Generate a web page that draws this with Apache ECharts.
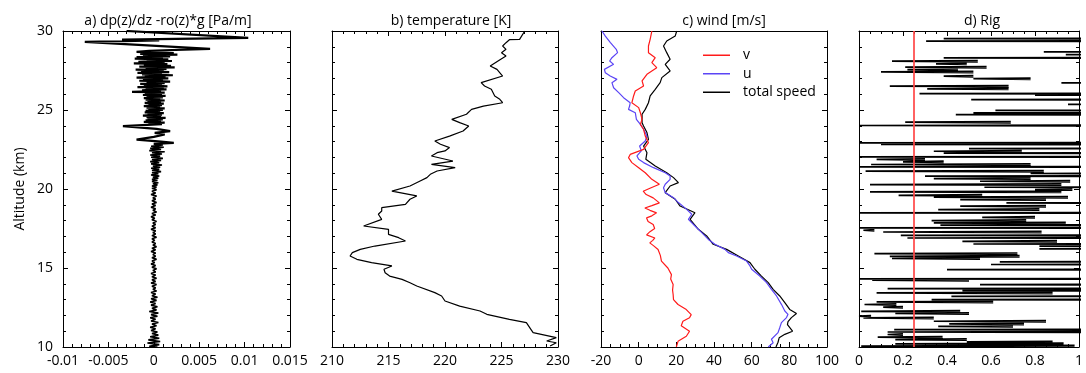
<!DOCTYPE html>
<html>
<head>
<meta charset="utf-8">
<script src="https://cdn.jsdelivr.net/npm/echarts@6.0.0/dist/echarts.min.js"></script>
<style>
  html, body { margin: 0; padding: 0; background: #fff; }
  #chart { width: 1086px; height: 373px; }
</style>
</head>
<body>
<div id="chart"></div>
<script>
// ---- data (altitude km, value) ----
const altTicks = ['10', '15', '20', '25', '30'];
const dpTicks = ['-0.01', '-0.005', '0', '0.005', '0.01', '0.015'];
const tempTicks = ['210', '215', '220', '225', '230'];
const windTicks = ['-20', '0', '20', '40', '60', '80', '100'];
const rigTicks = ['0', '0.2', '0.4', '0.6', '0.8', '1'];

const panelTitles = ['a) dp(z)/dz -ro(z)*g [Pa/m]', 'b) temperature [K]', 'c) wind [m/s]', 'd) Rig'];
const windNames = ['v', 'u', 'total speed'];

// a) dp(z)/dz - ro(z)*g
const dpProfile = [
  [30.0, -0.003], [29.57, 0.0104], [29.45, -0.0035], [29.40, 0.0006], [29.31, -0.0076],
  [28.87, 0.0062], [28.75, -0.0005], [28.68, -0.0019],
  [28.600, 0.0022], [28.575, 0.0003], [28.550, -0.0015], [28.525, 0.0006], [28.500, 0.0026],
  [28.475, -0.0004], [28.450, -0.0012], [28.425, 0.0007], [28.400, 0.0018], [28.375, -0.0005],
  [28.350, -0.0019], [28.325, 0.0002], [28.300, 0.0010], [28.275, -0.0006], [28.250, -0.0021],
  [28.225, 0.0004], [28.200, 0.0016], [28.175, -0.0003], [28.150, -0.0008], [28.125, 0.0008],
  [28.100, 0.0020], [28.075, -0.0005], [28.050, -0.0017], [28.025, 0.0003], [28.000, 0.0012],
  [27.975, -0.0007], [27.950, -0.0022], [27.925, 0.0005], [27.900, 0.0015], [27.875, -0.0002],
  [27.850, -0.0011], [27.825, 0.0006], [27.800, 0.0019], [27.775, -0.0004], [27.750, -0.0016],
  [27.725, 0.0007], [27.700, 0.0023], [27.675, 0.0001], [27.650, -0.0009], [27.625, 0.0004],
  [27.600, 0.0014], [27.575, -0.0006], [27.550, -0.0020], [27.525, 0.0002], [27.500, 0.0011],
  [27.475, -0.0003], [27.450, -0.0014], [27.425, 0.0005], [27.400, 0.0017], [27.375, -0.0005],
  [27.350, -0.0018], [27.325, 0.0003], [27.300, 0.0009], [27.275, -0.0004], [27.250, -0.0013],
  [27.225, 0.0006], [27.200, 0.0021], [27.175, -0.0002], [27.150, -0.0010], [27.125, 0.0004],
  [27.100, 0.0013], [27.075, -0.0006], [27.050, -0.0019], [27.025, 0.0002], [27.000, 0.0016],
  [26.975, -0.0003], [26.950, -0.0012], [26.925, 0.0005], [26.900, 0.0010], [26.875, -0.0004],
  [26.850, -0.0016], [26.825, 0.0003], [26.800, 0.0018], [26.775, 0.0000], [26.750, -0.0008],
  [26.725, 0.0004], [26.700, 0.0012], [26.675, -0.0005], [26.650, -0.0015], [26.625, 0.0002],
  [26.600, 0.0009], [26.575, -0.0003], [26.550, -0.0011], [26.525, 0.0005], [26.500, 0.0015],
  [26.475, -0.0004], [26.450, -0.0018], [26.425, 0.0002], [26.400, 0.0011], [26.375, -0.0002],
  [26.350, -0.0009], [26.325, 0.0004], [26.300, 0.0014], [26.275, -0.0005], [26.250, -0.0013],
  [26.225, 0.0003], [26.200, 0.0008], [26.175, -0.0006], [26.150, -0.0024], [26.125, 0.0001],
  [26.100, 0.0012], [26.075, -0.0003], [26.050, -0.0010], [26.025, 0.0004], [26.000, 0.0009],
  [25.975, -0.0004], [25.950, -0.0012], [25.925, 0.0003], [25.900, 0.0013], [25.875, -0.0002],
  [25.850, -0.0008], [25.825, 0.0004], [25.800, 0.0010], [25.775, -0.0003], [25.750, -0.0011],
  [25.725, 0.0002], [25.700, 0.0007], [25.675, -0.0003], [25.650, -0.0009], [25.625, 0.0004],
  [25.600, 0.0012], [25.575, -0.0002], [25.550, -0.0007], [25.525, 0.0003], [25.500, 0.0008],
  [25.475, -0.0004], [25.450, -0.0010], [25.425, 0.0002], [25.400, 0.0011], [25.375, -0.0001],
  [25.350, -0.0006], [25.325, 0.0003], [25.300, 0.0009], [25.275, -0.0004], [25.250, -0.0011],
  [25.225, 0.0002], [25.200, 0.0007], [25.175, -0.0002], [25.150, -0.0008], [25.125, 0.0004],
  [25.100, 0.0012], [25.075, -0.0002], [25.050, -0.0006], [25.025, 0.0003], [25.000, 0.0010],
  [24.975, -0.0003], [24.950, -0.0009], [24.925, 0.0002], [24.900, 0.0007], [24.875, -0.0004],
  [24.850, -0.0010], [24.825, 0.0003], [24.800, 0.0011], [24.775, -0.0001], [24.750, -0.0007],
  [24.725, 0.0002], [24.700, 0.0009], [24.675, -0.0004], [24.650, -0.0012], [24.625, 0.0001],
  [24.600, 0.0008], [24.575, -0.0002], [24.550, -0.0008], [24.525, 0.0004], [24.500, 0.0013],
  [24.475, -0.0001], [24.450, -0.0007], [24.425, 0.0003], [24.400, 0.0010], [24.375, -0.0003],
  [24.350, -0.0009], [24.325, 0.0002], [24.300, 0.0008], [24.275, -0.0004], [24.250, -0.0011],
  [24.225, 0.0003], [24.200, 0.0012], [24.175, -0.0001], [24.150, -0.0006], [24.125, 0.0002],
  [24.100, 0.0009],
  [23.98, -0.0034], [23.80, 0.0003], [23.66, 0.0018], [23.55, 0.0001], [23.45, 0.0012],
  [23.30, 0.0000], [23.13, -0.0019], [23.00, 0.0008], [22.92, 0.0022], [22.85, 0.0000],
  [22.78, 0.0010], [22.71, -0.0003], [22.64, 0.0011], [22.57, -0.0004], [22.50, 0.0008],
  [22.43, -0.0005], [22.36, 0.0012], [22.29, -0.0002], [22.22, 0.0009], [22.15, -0.0004],
  [22.08, 0.0007], [22.01, -0.0003], [21.94, 0.0010], [21.87, -0.0002], [21.80, 0.0008],
  [21.73, -0.0004], [21.66, 0.0006], [21.59, -0.0003], [21.52, 0.0009], [21.45, -0.0001],
  [21.38, 0.0007], [21.31, -0.0003], [21.24, 0.0006], [21.17, -0.0002], [21.10, 0.0008],
  [21.03, -0.0002], [20.96, 0.0005], [20.89, -0.0003], [20.82, 0.0006], [20.75, -0.0001],
  [20.68, 0.0005], [20.61, -0.0002], [20.54, 0.0004], [20.47, -0.0002], [20.40, 0.0005],
  [20.33, -0.0001], [20.26, 0.0004], [20.19, -0.0002], [20.12, 0.0003], [20.05, -0.0002],
  [19.95, 0.0003], [19.85, -0.0002], [19.75, 0.0002], [19.65, -0.0003], [19.55, 0.0003],
  [19.45, -0.0001], [19.35, 0.0002], [19.25, -0.0002], [19.15, 0.0003], [19.05, -0.0002],
  [18.95, 0.0002], [18.85, -0.0003], [18.75, 0.0002], [18.65, -0.0001], [18.55, 0.0003],
  [18.45, -0.0002], [18.35, 0.0002], [18.25, -0.0003], [18.15, 0.0001], [18.05, -0.0002],
  [17.95, 0.0003], [17.85, -0.0001], [17.75, 0.0002], [17.65, -0.0002], [17.55, 0.0002],
  [17.45, -0.0003], [17.35, 0.0002], [17.25, -0.0001], [17.15, 0.0002], [17.05, -0.0002],
  [16.95, 0.0003], [16.85, -0.0002], [16.75, 0.0001], [16.65, -0.0002], [16.55, 0.0002],
  [16.45, -0.0001], [16.35, 0.0003], [16.25, -0.0002], [16.15, 0.0002], [16.05, -0.0003],
  [15.95, 0.0002], [15.85, -0.0001], [15.75, 0.0002], [15.65, -0.0002], [15.55, 0.0003],
  [15.45, -0.0002], [15.35, 0.0001], [15.25, -0.0003], [15.15, 0.0002], [15.05, -0.0002],
  [14.95, 0.0003], [14.85, -0.0001], [14.75, 0.0002], [14.65, -0.0003], [14.55, 0.0002],
  [14.45, -0.0002], [14.35, 0.0003], [14.25, -0.0002], [14.15, 0.0002], [14.05, -0.0003],
  [13.95, 0.0003], [13.85, -0.0002], [13.75, 0.0002], [13.65, -0.0001], [13.55, 0.0003],
  [13.45, -0.0003], [13.35, 0.0002], [13.25, -0.0002], [13.15, 0.0004], [13.05, -0.0003],
  [12.95, 0.0003], [12.85, -0.0004], [12.75, 0.0002], [12.65, -0.0003], [12.55, 0.0004],
  [12.45, -0.0002], [12.35, 0.0003], [12.25, -0.0005], [12.15, 0.0005], [12.05, -0.0003],
  [11.95, 0.0004], [11.85, -0.0004], [11.75, 0.0002], [11.65, -0.0003], [11.55, 0.0005],
  [11.45, -0.0002], [11.35, 0.0003], [11.25, -0.0004], [11.15, 0.0002], [11.05, -0.0003],
  [10.95, 0.0004], [10.85, -0.0002], [10.75, 0.0005], [10.65, -0.0004], [10.55, 0.0006],
  [10.45, -0.0006], [10.35, 0.0007], [10.25, -0.0007], [10.15, 0.0006], [10.05, -0.0005],
  [10.00, 0.0004]
];
const DP_SPLIT_ALT = 22.85; // the noisy upper band is drawn with a heavier stroke

// b) temperature [K]
const tempProfile = [
  [30.00, 227.06], [29.47, 226.6], [29.45, 225.7], [29.26, 225.4], [29.05, 225.1], [28.84, 225.4],
  [28.63, 225.0], [28.42, 225.4], [28.20, 224.9], [27.78, 224.0], [27.57, 224.6], [27.15, 225.1],
  [26.73, 223.2], [26.52, 223.5], [26.31, 224.1], [25.89, 224.4], [25.68, 224.85], [25.46, 225.1],
  [25.25, 223.4], [25.04, 222.35], [24.73, 221.9], [24.41, 220.6], [24.20, 221.3], [23.99, 222.1],
  [23.67, 221.6], [23.35, 220.4], [23.04, 219.1], [22.83, 219.6], [22.62, 220.4], [22.41, 220.0],
  [22.30, 219.3], [22.09, 218.8], [21.77, 220.7], [21.56, 218.8], [21.35, 220.9], [21.14, 219.3],
  [20.93, 218.7], [20.72, 218.4], [20.51, 217.8], [20.19, 216.9], [19.87, 215.3], [19.56, 217.5],
  [19.35, 216.9], [19.03, 216.5], [18.82, 214.4], [18.61, 214.4], [18.40, 214.1], [18.08, 214.4],
  [17.66, 212.8], [17.45, 215.0], [17.13, 215.0], [16.92, 215.9], [16.71, 216.5], [16.39, 213.8],
  [16.18, 212.5], [15.97, 211.8], [15.76, 211.6], [15.55, 212.2], [15.34, 213.5], [15.13, 215.3],
  [14.92, 214.6], [14.70, 214.7], [14.49, 215.1], [14.28, 216.2], [14.07, 216.9], [13.86, 217.5],
  [13.44, 219.1], [13.23, 219.7], [12.91, 220.0], [12.59, 221.3], [12.28, 223.1], [12.07, 223.7],
  [11.75, 225.7], [11.54, 227.2], [11.12, 227.6], [10.91, 227.8], [10.59, 229.85], [10.38, 229.0],
  [10.27, 229.85], [10.06, 229.3]
];

// c) wind [m/s]
const vProfile = [
  [30.00, 7.0], [29.47, 6.1], [29.05, 5.2], [28.63, 5.2], [28.31, 8.8], [28.00, 7.0], [27.68, 9.6],
  [27.26, 4.4], [26.84, 1.8], [26.52, 2.6], [26.20, -1.8], [25.89, -2.7], [25.46, -3.6], [25.15, 0.0],
  [24.83, 0.9], [24.41, 1.8], [24.09, 0.9], [23.78, 2.6], [23.35, 3.5], [22.93, 5.2], [22.51, 2.6],
  [22.19, -4.5], [21.98, -5.4], [21.67, -3.6], [21.35, 0.0], [21.03, 3.5], [20.61, 7.0], [20.30, 11.0],
  [20.05, 6.0], [19.86, 2.4], [19.65, 4.0], [19.44, 7.7], [19.12, 11.0], [18.95, 7.0], [18.80, 3.3],
  [18.65, 6.0], [18.49, 9.5], [18.30, 7.0], [18.17, 4.2], [17.95, 5.0], [17.75, 7.7], [17.50, 8.5],
  [17.30, 6.0], [17.10, 4.2], [16.90, 8.6], [16.75, 7.5], [16.59, 5.9], [16.40, 8.0], [16.17, 10.3],
  [15.80, 11.5], [15.43, 12.1], [15.00, 15.5], [14.58, 17.4], [14.30, 17.0], [13.95, 18.3],
  [13.60, 18.0], [13.32, 18.3], [13.00, 18.5], [12.69, 20.9], [12.37, 25.3], [12.05, 27.9],
  [11.85, 27.0], [11.63, 23.5], [11.35, 22.6], [11.00, 27.0], [10.68, 25.3], [10.36, 20.9], [10.00, 20.0]
];
const uProfile = [
  [30.00, -19.5], [29.68, -17.7], [29.26, -15.0], [28.84, -11.9], [28.63, -11.2], [28.31, -14.2],
  [28.10, -15.4], [27.89, -13.3], [27.57, -18.2], [27.36, -17.7], [27.15, -15.1], [26.94, -11.5],
  [26.73, -14.2], [26.41, -13.3], [26.10, -10.6], [25.78, -8.0], [25.46, -4.5], [25.25, -4.8],
  [25.04, -5.4], [24.83, -1.8], [24.41, -1.2], [24.09, 0.9], [23.78, 2.6], [23.35, 4.4], [23.04, 3.5],
  [22.72, 0.5], [22.41, 1.4], [22.09, -0.9], [21.88, 0.0], [21.67, 2.6], [21.35, 7.9], [21.03, 14.1],
  [20.82, 16.7], [20.61, 16.7], [20.30, 14.1], [20.08, 13.2], [19.77, 14.1], [19.45, 18.5],
  [19.14, 21.1], [18.71, 25.5], [18.40, 28.2], [18.08, 26.4], [17.66, 29.9], [17.24, 33.5],
  [16.81, 37.0], [16.50, 40.5], [16.18, 45.8], [15.97, 47.6], [15.76, 52.0], [15.44, 57.3],
  [15.13, 59.1], [14.92, 60.0], [14.49, 64.3], [14.07, 67.9], [13.65, 70.5], [13.23, 73.2],
  [12.70, 75.8], [12.28, 77.6], [12.07, 79.3], [11.86, 78.5], [11.54, 75.8], [11.22, 74.9],
  [10.91, 74.0], [10.49, 70.5], [10.27, 71.4], [10.00, 68.8]
];
const speedProfile = [
  [30.00, 20.2], [29.68, 19.4], [29.37, 14.9], [29.05, 13.2], [28.63, 14.9], [28.21, 16.7],
  [27.89, 14.1], [27.47, 16.7], [27.05, 12.3], [26.73, 11.4], [26.31, 8.8], [25.89, 6.1],
  [25.46, 5.2], [25.04, 3.5], [24.73, 1.8], [24.20, 1.8], [23.99, 2.6], [23.57, 4.4], [23.14, 5.2],
  [22.72, 2.6], [22.30, 4.4], [21.88, 3.8], [21.46, 8.8], [21.03, 14.9], [20.72, 18.5], [20.40, 21.1],
  [20.19, 16.7], [19.77, 14.1], [19.35, 19.4], [18.92, 22.0], [18.50, 29.9], [18.08, 27.3],
  [17.45, 31.7], [17.03, 36.1], [16.50, 39.6], [16.18, 46.7], [15.76, 52.9], [15.34, 59.1],
  [14.92, 61.7], [14.49, 65.2], [14.07, 68.8], [13.65, 71.4], [13.23, 74.9], [12.81, 77.6],
  [12.38, 80.2], [12.12, 83.8], [11.86, 81.1], [11.60, 79.3], [11.42, 79.0], [11.00, 81.7],
  [10.80, 77.6], [10.58, 74.6], [10.30, 74.0], [10.00, 72.9]
];

// d) Rig: each excursion starts at rigTip and runs out to rigEnd (2 = off the axis)
const rigAlt = [
  29.52, 29.36, 28.68, 28.51, 28.30, 28.09, 27.92, 27.71, 27.56, 27.41, 27.14, 26.98, 26.72, 26.51,
  26.34, 26.04, 25.94, 25.66, 25.35, 24.97, 24.82, 24.71, 24.23, 24.02, 22.92, 22.82, 22.56, 22.39,
  22.27, 22.03, 21.87, 21.72, 21.55, 21.40, 21.13, 20.98, 20.81, 20.66, 20.49, 20.28, 20.11, 19.96,
  19.82, 19.60, 19.48, 19.33, 19.12, 18.91, 18.70, 18.49, 18.21, 18.00, 17.85, 17.71, 17.54, 17.39,
  17.28, 17.07, 16.90, 16.69, 16.52, 16.38, 16.21, 15.91, 15.74, 15.60, 15.39, 15.22, 14.90, 14.31,
  14.23, 13.95, 13.70, 13.57, 13.42, 13.21, 13.00, 12.85, 12.69, 12.52, 12.26, 12.12, 11.95, 11.84,
  11.63, 11.46, 11.31, 11.10, 10.95, 10.79, 10.62, 10.47, 10.32, 10.20, 10.06
];
const rigTip = [
  0.385, 0.305, 0.84, 0.94, 0.385, 0.15, 0.35, 0.21, 0.22, 0.10, 0.385, 0.52, 0.92, 0.14,
  0.31, 0.275, 0.80, 0.51, 0.95, 0.62, 0.52, 0.44, 0.21, 0.0, 0.0, 0.10, 0.50, 0.34,
  0.385, 0.0, 0.08, 0.20, 0.055, 0.0, 0.03, 0.78, 0.30, 0.34, 0.55, 0.05, 0.57, 0.80,
  0.05, 0.18, 0.34, 0.46, 0.67, 0.46, 0.36, 0.0, 0.56, 0.33, 0.34, 0.37, 0.0, 0.02,
  0.11, 0.19, 0.22, 0.47, 0.52, 0.82, 0.82, 0.07, 0.14, 0.15, 0.64, 0.60, 0.40, 0.0,
  0.06, 0.55, 0.13, 0.47, 0.08, 0.42, 0.33, 0.08, 0.025, 0.11, 0.01, 0.165, 0.0, 0.02,
  0.34, 0.41, 0.36, 0.16, 0.13, 0.13, 0.085, 0.165, 0.49, 0.165, 0.01
];
const rigEnd = [
  2, 2, 2, 2, 2, 0.54, 0.49, 0.58, 0.45, 0.52, 0.52, 0.78, 2, 0.68,
  0.68, 2, 2, 2, 2, 2, 2, 2, 0.69, 2, 2, 2, 2, 0.74,
  2, 2, 0.30, 0.385, 0.78, 2, 0.84, 2, 2, 0.78, 0.96, 0.92, 2, 0.97,
  0.92, 0.56, 0.95, 0.85, 2, 0.85, 0.82, 2, 0.80, 0.76, 0.94, 2, 2, 0.07,
  0.83, 2, 2, 0.90, 2, 2, 2, 0.72, 0.73, 0.55, 2, 2, 2, 2,
  0.50, 2, 2, 2, 0.88, 2, 2, 0.61, 0.17, 0.20, 0.46, 0.50, 0.055, 0.34,
  0.85, 0.75, 0.70, 2, 2, 0.20, 0.38, 0.49, 0.88, 0.93, 0.98
];
const rigCritical = 0.25;

// ---- layout ----
const FONT = 'Open Sans';
const GRID_TOP = 31;
const GRID_HEIGHT = 316;
const panels = [
  { left: 63, width: 227, titleX: 163 },
  { left: 332, width: 226, titleX: 446 },
  { left: 601, width: 226, titleX: 719 },
  { left: 859, width: 227, titleX: 977 }
];
const xSpecs = [
  { min: -0.01, max: 0.015, interval: 0.005, minor: 5, labels: dpTicks, topTicks: true },
  { min: 210, max: 230, interval: 5, minor: 5, labels: tempTicks, topTicks: true },
  { min: -20, max: 100, interval: 20, minor: 4, labels: windTicks, topTicks: false },
  { min: 0, max: 1, interval: 0.2, minor: 4, labels: rigTicks, topTicks: true }
];

const toXY = (profile) => profile.map(p => [p[1], p[0]]);

const rigData = [];
rigAlt.forEach((a, i) => {
  rigData.push([rigEnd[i], a + 0.04], [rigTip[i], a], [rigEnd[i], a - 0.04], ['-', '-']);
});

// every axis gets its own fresh style objects
const frame = (gridIndex, position, range, ticks, minorSplit, extra) => Object.assign({
  type: 'value', gridIndex, position,
  min: range.min, max: range.max, interval: range.interval,
  splitLine: { show: false },
  axisLine: { show: true, onZero: false, lineStyle: { color: '#000' } },
  axisTick: { show: ticks, inside: true, length: 5, lineStyle: { color: '#000' } },
  minorTick: { show: ticks, splitNumber: minorSplit, length: 3, lineStyle: { color: '#000' } },
  axisLabel: { show: false }
}, extra);

const ALT_RANGE = { min: 10, max: 30, interval: 5 };
const grids = [];
const xAxes = [];
const yAxes = [];
panels.forEach((p, i) => {
  const s = xSpecs[i];
  grids.push({ left: p.left, top: GRID_TOP, width: p.width, height: GRID_HEIGHT });
  xAxes.push(frame(i, 'bottom', s, true, s.minor, {
    axisLabel: {
      show: true, color: '#000', fontSize: 14, fontFamily: FONT, margin: 7,
      showMinLabel: true, showMaxLabel: true,
      formatter: (v, idx) => s.labels[idx]
    }
  }));
  xAxes.push(frame(i, 'top', s, s.topTicks, s.minor, {}));
  yAxes.push(frame(i, 'left', ALT_RANGE, true, 5, i === 0 ? {
    name: 'Altitude (km)', nameLocation: 'middle', nameGap: 36,
    nameTextStyle: { color: '#000', fontSize: 14, fontFamily: FONT },
    axisLabel: {
      show: true, color: '#000', fontSize: 14, fontFamily: FONT, margin: 10,
      formatter: (v, idx) => altTicks[idx]
    }
  } : {}));
  yAxes.push(frame(i, 'right', ALT_RANGE, true, 5, {}));
});

const lineSeries = (name, panel, data, color, width) => ({
  name, type: 'line', xAxisIndex: panel * 2, yAxisIndex: panel * 2, data,
  symbol: 'none', showSymbol: false, clip: true, animation: false,
  lineStyle: { color, width }, itemStyle: { color }
});

const rigSeries = lineSeries('Rig', 3, rigData, '#000', 1.7);
rigSeries.connectNulls = false;
rigSeries.markLine = {
  silent: true, symbol: 'none', animation: false, label: { show: false },
  lineStyle: { color: 'rgba(255,70,70,0.85)', width: 2, type: 'solid' },
  data: [{ xAxis: rigCritical }]
};

const dpUpper = dpProfile.filter(p => p[0] >= DP_SPLIT_ALT);
const dpLower = dpProfile.filter(p => p[0] <= DP_SPLIT_ALT);

const option = {
  backgroundColor: '#fff',
  animation: false,
  title: panelTitles.map((t, i) => ({
    text: t, left: panels[i].titleX, top: 9, textAlign: 'center',
    textStyle: { color: '#000', fontSize: 14, fontWeight: 'normal', fontFamily: FONT }
  })),
  legend: {
    data: windNames, orient: 'vertical', left: 698, top: 42,
    icon: 'rect', itemWidth: 27, itemHeight: 1.5, itemGap: 2,
    textStyle: { color: '#000', fontSize: 14, fontFamily: FONT, lineHeight: 16.5, padding: [0, 0, 0, 8] }
  },
  grid: grids,
  xAxis: xAxes,
  yAxis: yAxes,
  series: [
    lineSeries('dp upper', 0, toXY(dpUpper), '#000', 2.2),
    lineSeries('dp lower', 0, toXY(dpLower), '#000', 1.6),
    lineSeries('temperature', 1, toXY(tempProfile), '#000', 1.2),
    lineSeries('total speed', 2, toXY(speedProfile), '#000', 1.2),
    lineSeries('u', 2, toXY(uProfile), '#5b45f5', 1.2),
    lineSeries('v', 2, toXY(vProfile), '#ff1a1a', 1.2),
    rigSeries
  ]
};

const chart = echarts.init(document.getElementById('chart'));
chart.setOption(option);
</script>
</body>
</html>
